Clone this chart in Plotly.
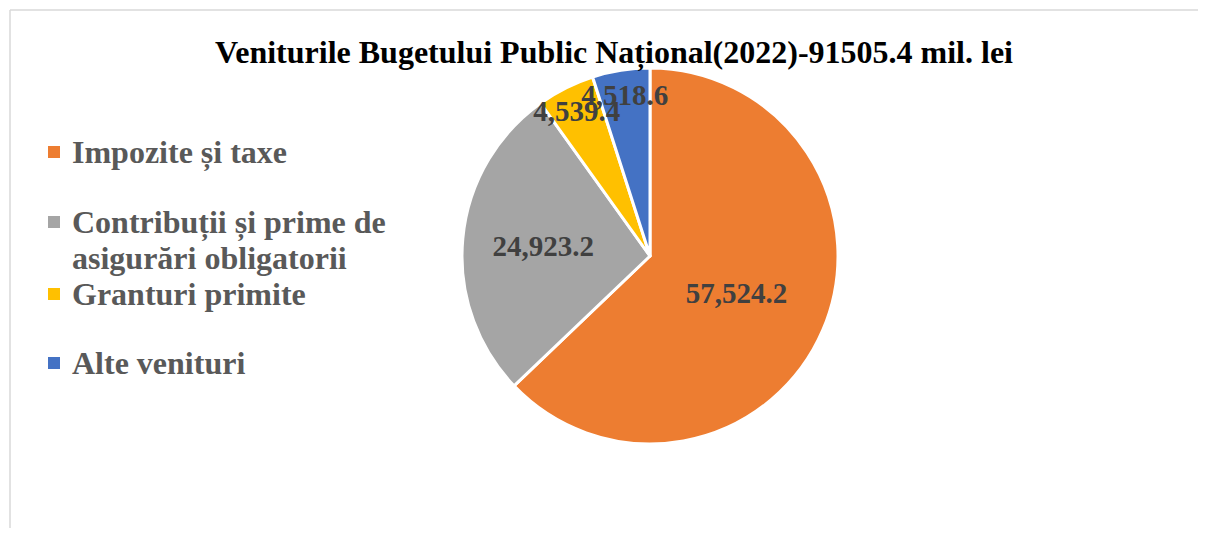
import textwrap
import plotly.graph_objects as go

labels = ["Impozite și taxe", "Contribuții și prime de asigurări obligatorii",
          "Granturi primite", "Alte venituri"]
values = [57524.2, 24923.2, 4539.4, 4518.6]
colors = ["#ED7D31", "#A5A5A5", "#FFC000", "#4472C4"]
title_text = "Veniturile Bugetului Public Național(2022)-91505.4 mil. lei"

# the page body adds an 8px margin; size the figure so it fills the window
OFF = 8
W, H = 1206 - 2 * OFF, 536 - 2 * OFF
SERIF = "Liberation Serif, Times New Roman, serif"


def px(x):
    return (x - OFF) / W


def py(y):
    return 1 - (y - OFF) / H


cx, cy, r = 650, 256, 188
domain = dict(x=[px(cx - r), px(cx + r)], y=[py(cy + r), py(cy - r)])

fig = go.Figure()
# coloured slices
fig.add_trace(go.Pie(
    labels=labels, values=values, sort=False, direction="clockwise", rotation=0,
    marker=dict(colors=colors, line=dict(color="white", width=3)),
    textinfo="none", domain=domain, showlegend=False, hoverinfo="skip",
))
# transparent copy on top that carries the data labels (so labels sit above all slices)
fig.add_trace(go.Pie(
    labels=labels, values=values, sort=False, direction="clockwise", rotation=0,
    marker=dict(colors=["rgba(0,0,0,0)"] * len(values), line=dict(width=0)),
    texttemplate="%{value:,.1f}", textposition="inside",
    insidetextorientation="horizontal",
    textfont=dict(family=SERIF, size=29, color="#404040", weight="bold"),
    domain=domain, showlegend=False, hoverinfo="label+value+percent",
))

# legend drawn as annotations (custom spacing)
leg_y = [152, 222, 294, 363]
line_gap = 36
for lab, col, yc in zip(labels, colors, leg_y):
    lines = textwrap.wrap(lab, width=24)
    fig.add_shape(type="rect", xref="paper", yref="paper",
                  x0=px(48), x1=px(60), y0=py(yc + 6), y1=py(yc - 6),
                  fillcolor=col, line=dict(width=0))
    for k, ln in enumerate(lines):
        fig.add_annotation(xref="paper", yref="paper", x=px(70),
                           y=py(yc + k * line_gap), xanchor="left", yanchor="middle",
                           text=ln, showarrow=False, align="left",
                           font=dict(family=SERIF, size=32, color="#595959", weight="bold"))

# chart frame (left and top edges visible, the rest runs off the picture)
fig.add_shape(type="line", xref="paper", yref="paper",
              x0=px(10), x1=px(10), y0=0, y1=py(10),
              line=dict(color="#D9D9D9", width=1.5))
fig.add_shape(type="line", xref="paper", yref="paper",
              x0=px(10), x1=1, y0=py(10), y1=py(10),
              line=dict(color="#D9D9D9", width=1.5))

fig.update_layout(
    width=W, height=H,
    margin=dict(l=0, r=0, t=0, b=0),
    paper_bgcolor="white", plot_bgcolor="white",
    title=dict(text=title_text, x=px(614), xanchor="center", y=py(52), yanchor="middle",
               font=dict(family=SERIF, size=32, color="black", weight="bold")),
    uniformtext=dict(minsize=29, mode="show"),
)

fig.write_html("out.html")
